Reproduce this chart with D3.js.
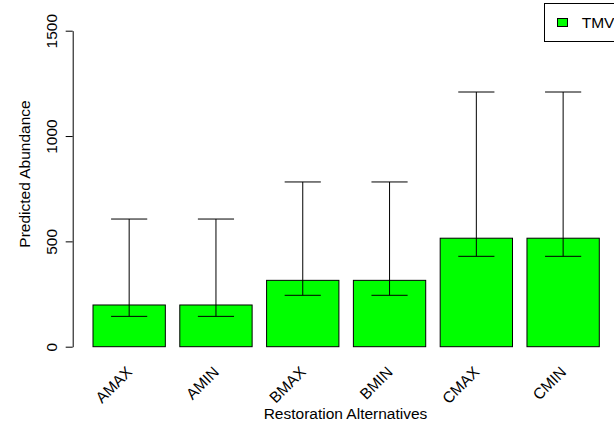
<!DOCTYPE html>
<html>
<head>
<meta charset="utf-8">
<script src="https://cdn.jsdelivr.net/npm/d3@7"></script>
<style>
  html, body { margin: 0; padding: 0; background: #fff; }
  svg { display: block; }
  text { font-family: "Liberation Sans", Arial, sans-serif; fill: #000; }
</style>
</head>
<body>
<svg id="chart" width="614" height="425"></svg>
<script>
const categories = ["AMAX", "AMIN", "BMAX", "BMIN", "CMAX", "CMIN"];
const seriesName = "TMV";
const values = [198, 198, 315, 315, 515, 515];
const lowerErr = [144, 144, 244, 244, 429, 429];
const upperErr = [606, 606, 782, 782, 1209, 1209];
const yTicks = [0, 500, 1000, 1500];
const yTitle = "Predicted Abundance";
const xTitle = "Restoration Alternatives";

const svg = d3.select("#chart");
const fontSize = 15.5;
const green = "#00ff00";

const x = d3.scaleBand()
  .domain(categories)
  .range([93, 599.3])
  .paddingInner(1 / 6)
  .paddingOuter(0);

const y = d3.scaleLinear().domain([0, 1500]).range([346.7, 30.7]);

const rows = categories.map((c, i) => ({ c, v: values[i], lo: lowerErr[i], hi: upperErr[i] }));

// bars
svg.append("g").selectAll("rect")
  .data(rows)
  .join("rect")
  .attr("x", d => x(d.c))
  .attr("y", d => y(d.v))
  .attr("width", x.bandwidth())
  .attr("height", d => y(0) - y(d.v))
  .attr("fill", green)
  .attr("stroke", "#000")
  .attr("stroke-width", 1);

// error bars
const eg = svg.append("g").attr("stroke", "#000").attr("stroke-width", 1);
const cx = d => x(d.c) + x.bandwidth() / 2;
const capHalf = x.bandwidth() / 4;
eg.selectAll("line.v").data(rows).join("line").attr("class", "v")
  .attr("x1", cx).attr("x2", cx)
  .attr("y1", d => y(d.lo)).attr("y2", d => y(d.hi));
eg.selectAll("line.t").data(rows).join("line").attr("class", "t")
  .attr("x1", d => cx(d) - capHalf).attr("x2", d => cx(d) + capHalf)
  .attr("y1", d => y(d.hi)).attr("y2", d => y(d.hi));
eg.selectAll("line.b").data(rows).join("line").attr("class", "b")
  .attr("x1", d => cx(d) - capHalf).attr("x2", d => cx(d) + capHalf)
  .attr("y1", d => y(d.lo)).attr("y2", d => y(d.lo));

// y axis
const yAxis = d3.axisLeft(y).tickValues(yTicks).tickSize(7).tickSizeOuter(0).tickFormat(d3.format("d"));
const ya = svg.append("g").attr("transform", "translate(72.7,0)").call(yAxis);
ya.select(".domain").attr("stroke", "#000");
ya.selectAll(".tick line").attr("stroke", "#000");
ya.selectAll(".tick text")
  .attr("x", null).attr("dy", null)
  .attr("transform", "translate(-15.7,0) rotate(-90)")
  .attr("text-anchor", "middle")
  .attr("font-size", fontSize)
  .attr("font-family", "Liberation Sans, Arial, sans-serif")
  .attr("fill", "#000");

// x labels (rotated 45)
svg.append("g").selectAll("text")
  .data(categories)
  .join("text")
  .attr("transform", d => `translate(${x(d) + x.bandwidth() / 2 + 4},373) rotate(-45)`)
  .attr("text-anchor", "end")
  .attr("font-size", fontSize)
  .text(d => d);

// axis titles
svg.append("text")
  .attr("transform", "translate(29.5,174) rotate(-90)")
  .attr("text-anchor", "middle")
  .attr("font-size", fontSize)
  .text(yTitle);

svg.append("text")
  .attr("x", 345.5).attr("y", 419)
  .attr("text-anchor", "middle")
  .attr("font-size", fontSize)
  .text(xTitle);

// legend
const lg = svg.append("g");
lg.append("rect").attr("x", 544.5).attr("y", 3.5).attr("width", 90).attr("height", 38)
  .attr("fill", "#fff").attr("stroke", "#000").attr("stroke-width", 1);
lg.append("rect").attr("x", 557.5).attr("y", 18.5).attr("width", 10).attr("height", 8)
  .attr("fill", green).attr("stroke", "#000").attr("stroke-width", 1);
lg.append("text").attr("x", 581.7).attr("y", 28.3).attr("font-size", fontSize).text(seriesName);
</script>
</body>
</html>
